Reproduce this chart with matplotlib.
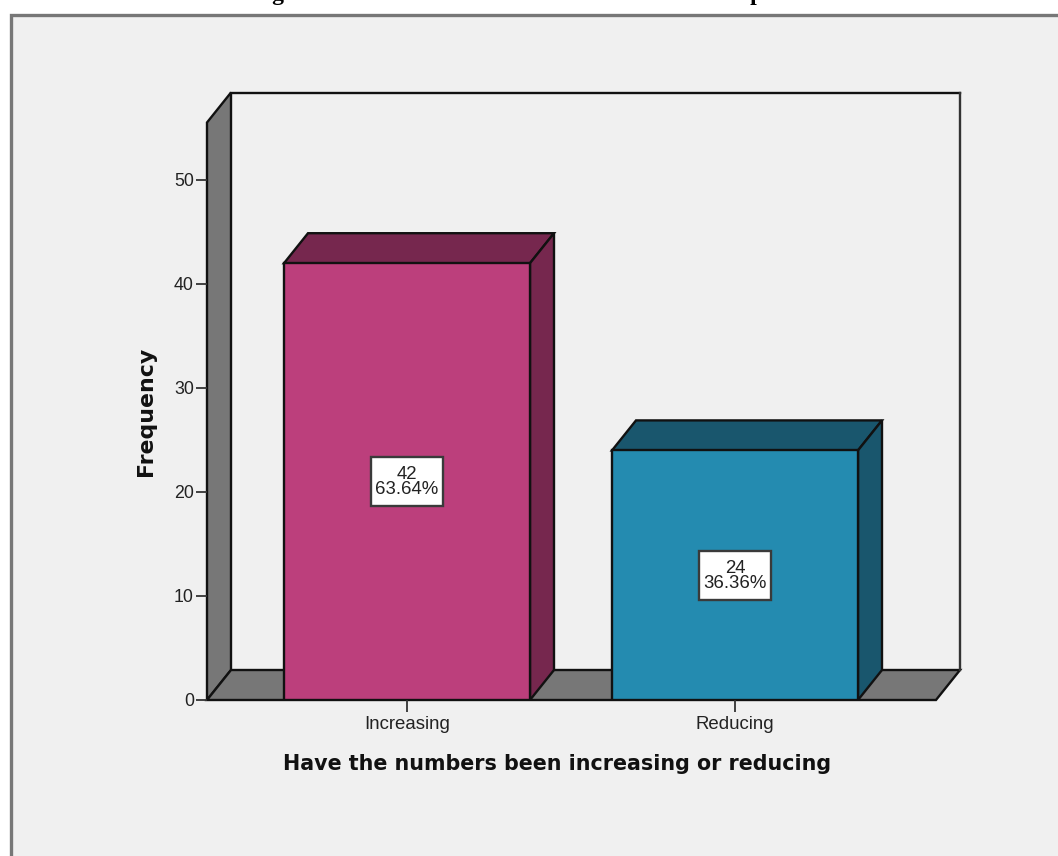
import matplotlib
matplotlib.use("Agg")
import matplotlib.pyplot as plt
from matplotlib.patches import Polygon, Rectangle

categories = ["Increasing", "Reducing"]
counts = [42, 24]
percents = ["63.64%", "36.36%"]
y_ticks = [0, 10, 20, 30, 40, 50]
title = "Fig 8: Perceived trend of the cases in the local hospitals"
x_label = "Have the numbers been increasing or reducing"
y_label = "Frequency"

W, H = 1058, 856
fig = plt.figure(figsize=(W / 100, H / 100), dpi=100, facecolor="white")
plt.rcParams["font.family"] = ["Liberation Sans", "DejaVu Sans"]

# panel
panel = Rectangle((10.5 / W, -0.01), 1.1, (H - 15) / H + 0.01, transform=fig.transFigure,
                  facecolor="#f0f0f0", edgecolor="#777777", linewidth=2.4, zorder=-5)
fig.patches.append(panel)
fig.text(528 / W, 1 + 0.4 / H, title, family="Liberation Serif", fontweight="bold", fontsize=17,
         ha="center", va="baseline", color="black")

L, R, B, T = 207, 936, 700, 122.5
ax = fig.add_axes([L / W, 1 - B / H, (R - L) / W, (B - T) / H], zorder=2)
ax.patch.set_visible(False)
PX_X = 328.0
PX_Y = 10.4
ax.set_xlim((L - 407) / PX_X, (R - 407) / PX_X)
ax.set_ylim(0, (B - T) / PX_Y)
dx, dy = 24 / PX_X, 30 / PX_Y
x0, x1 = ax.get_xlim()
y0, y1 = ax.get_ylim()
EC = "#111111"
LW = 1.7
GREY = "#777777"

ax.add_patch(Polygon([(x0, y0), (x0, y1), (x0 + dx, y1 + dy), (x0 + dx, y0 + dy)], closed=True,
                     facecolor=GREY, edgecolor=EC, linewidth=LW, clip_on=False, joinstyle="miter"))
ax.add_patch(Polygon([(x0, y0), (x0 + dx, y0 + dy), (x1 + dx, y0 + dy), (x1, y0)], closed=True,
                     facecolor=GREY, edgecolor=EC, linewidth=LW, clip_on=False, joinstyle="miter"))
ax.plot([x0 + dx, x1 + dx], [y1 + dy, y1 + dy], color=EC, lw=LW, clip_on=False, solid_capstyle="projecting")
ax.plot([x1 + dx, x1 + dx], [y1 + dy, y0 + dy], color="#333333", lw=LW, clip_on=False)

BW = 246 / PX_X
BOX_W, BOX_H = 72 / PX_X, 49 / PX_Y
colors = [("#bc3f7c", "#76274e", "#76274e"), ("#248bb0", "#19566d", "#19566d")]
for i, (v, pct, (front, top, side)) in enumerate(zip(counts, percents, colors)):
    a, b = i - BW / 2, i + BW / 2
    ax.add_patch(Polygon([(a, v), (a + dx, v + dy), (b + dx, v + dy), (b, v)], closed=True,
                         facecolor=top, edgecolor=EC, linewidth=LW, zorder=3, joinstyle="miter"))
    ax.add_patch(Polygon([(b, 0), (b, v), (b + dx, v + dy), (b + dx, dy)], closed=True,
                         facecolor=side, edgecolor=EC, linewidth=LW, zorder=3, joinstyle="miter"))
    ax.add_patch(Rectangle((a, 0), BW, v, facecolor=front, edgecolor=EC, linewidth=LW, zorder=4))
    ax.add_patch(Rectangle((i - BOX_W / 2, v / 2 - BOX_H / 2), BOX_W, BOX_H, facecolor="white",
                           edgecolor="#3a3a3a", linewidth=1.7, zorder=5))
    ax.text(i, v / 2 - 0.05, f"{v}\n{pct}", ha="center", va="center", fontsize=13.4, color="#222222",
            linespacing=0.85, zorder=6)

for s in ax.spines.values():
    s.set_visible(False)
ax.set_xticks(range(len(categories)), categories)
ax.set_yticks(y_ticks)
ax.tick_params(axis="x", length=8.5, width=1.3, color="#333333", labelsize=13.4, labelcolor="#222222", pad=3)
ax.tick_params(axis="y", length=8, width=1.3, color="#333333", labelsize=12.8, labelcolor="#222222", pad=1.5)
ax.set_axisbelow(False)

fig.text(557 / W, 1 - 764 / H, x_label, family="DejaVu Sans", fontweight="bold", fontsize=14.9,
         ha="center", va="center", color="#111111")
fig.text(146 / W, 1 - 411 / H, y_label, family="DejaVu Sans", fontweight="bold", fontsize=15.8,
         rotation=90, ha="center", va="center", color="#111111")

fig.savefig("out.png", dpi=100, facecolor="white")
